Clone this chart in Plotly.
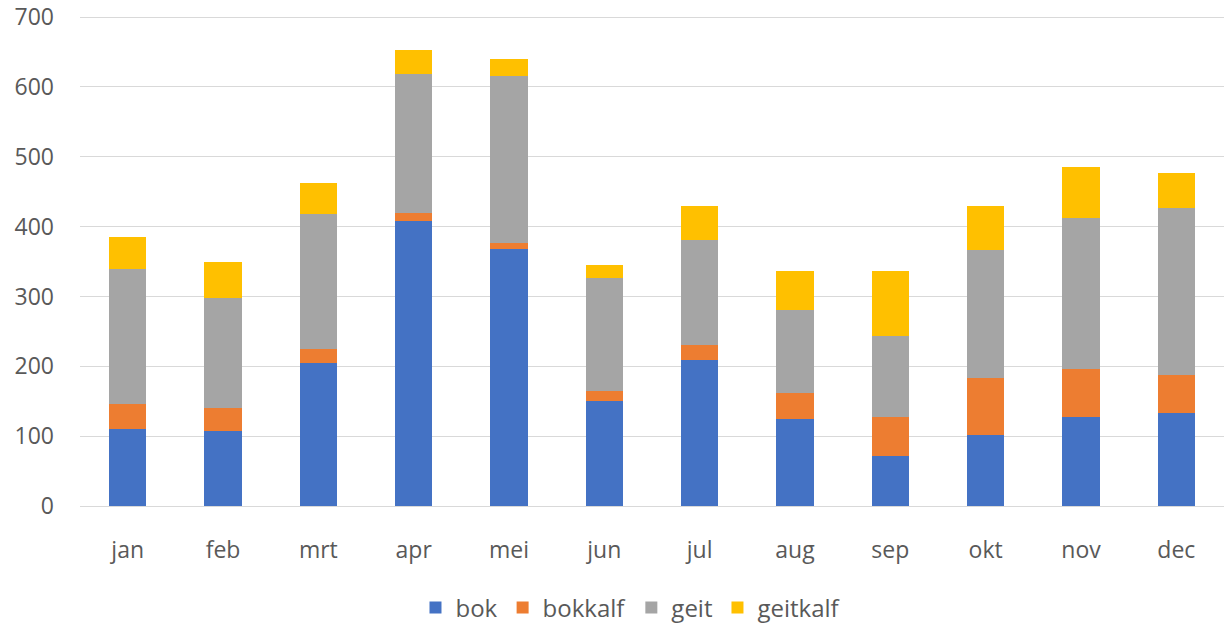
import plotly.graph_objects as go

months = ["jan", "feb", "mrt", "apr", "mei", "jun", "jul", "aug", "sep", "okt", "nov", "dec"]
bok = [110, 107, 205, 408, 368, 150, 209, 125, 71, 102, 127, 133]
bokkalf = [36, 33, 20, 11, 9, 14, 22, 37, 56, 81, 69, 55]
geit = [193, 158, 193, 200, 239, 162, 150, 119, 116, 184, 216, 238]
geitkalf = [46, 52, 45, 34, 24, 19, 48, 56, 94, 62, 74, 51]

series = [
    ("bok", bok, "#4472C4"),
    ("bokkalf", bokkalf, "#ED7D31"),
    ("geit", geit, "#A5A5A5"),
    ("geitkalf", geitkalf, "#FFC000"),
]

fig = go.Figure()
for name, vals, color in series:
    fig.add_trace(go.Bar(x=months, y=vals, name=name, marker=dict(color=color, line=dict(width=0))))

font_family = "'Open Sans', sans-serif"
fig.update_layout(
    barmode="stack",
    bargap=0.61,
    width=1230,
    height=624,
    margin=dict(l=80, r=6, t=15, b=118, autoexpand=False),
    paper_bgcolor="white",
    plot_bgcolor="white",
    font=dict(family=font_family, size=23, color="#595959"),
    legend=dict(
        orientation="h",
        xref="container",
        yref="container",
        x=0.5130,
        xanchor="center",
        y=0.026,
        yanchor="middle",
        font=dict(size=24, color="#595959"),
        traceorder="normal",
        itemwidth=30,
    ),
    xaxis=dict(
        showgrid=False,
        showline=True,
        linecolor="#d9d9d9",
        linewidth=1,
        ticks="",
        automargin=False,
        ticklabelstandoff=23,
        tickfont=dict(size=23, color="#595959"),
    ),
    yaxis=dict(
        range=[0, 703],
        tickvals=[0, 100, 200, 300, 400, 500, 600, 700],
        showgrid=True,
        gridcolor="#d9d9d9",
        gridwidth=1,
        zeroline=False,
        showline=False,
        ticks="",
        automargin=False,
        ticklabeloverflow="allow",
        ticklabelstandoff=25,
        tickfont=dict(size=23, color="#595959"),
    ),
)

fig.write_html(
    "out.html",
    config={"displayModeBar": False},
    post_script="document.body.style.margin='0';document.body.style.overflow='hidden';",
)
